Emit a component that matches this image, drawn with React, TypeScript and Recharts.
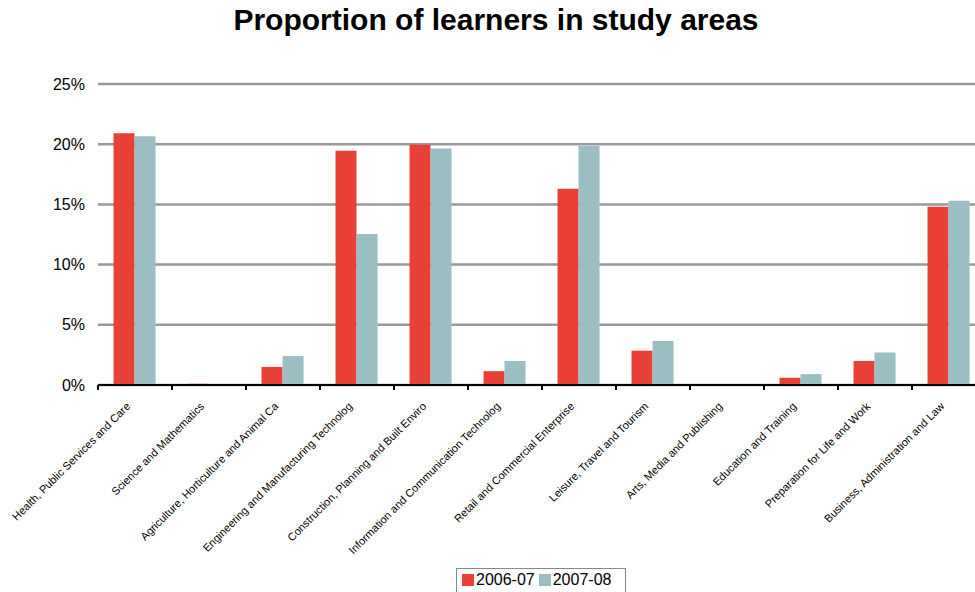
import { BarChart, Bar, XAxis, YAxis, CartesianGrid } from "recharts";

const categories = [
  "Health, Public Services and Care",
  "Science and Mathematics",
  "Agriculture, Horticulture and Animal Ca",
  "Engineering and Manufacturing Technolog",
  "Construction, Planning and Built Enviro",
  "Information and Communication Technolog",
  "Retail and Commercial Enterprise",
  "Leisure, Travel and Tourism",
  "Arts, Media and Publishing",
  "Education and Training",
  "Preparation for Life and Work",
  "Business, Administration and Law",
];

const seriesNames = ["2006-07", "2007-08"];
const values0607 = [20.9, 0.1, 1.5, 19.45, 19.95, 1.15, 16.3, 2.85, 0, 0.6, 2.0, 14.8];
const values0708 = [20.65, 0, 2.4, 12.55, 19.65, 2.0, 19.85, 3.65, 0, 0.9, 2.7, 15.3];
const yTicks = [0, 5, 10, 15, 20, 25];

const colors = ["#e84036", "#9abec1"];
const font = "'Liberation Sans', Arial, sans-serif";

const data = categories.map((name, i) => ({
  name,
  a: values0607[i],
  b: values0708[i],
}));

const CHART_W = 990;
const CHART_H = 600;
const PLOT_TOP = 84;
const PLOT_BOTTOM = 385;
const PLOT_LEFT = 98;
const PLOT_RIGHT = 986;
const band = (PLOT_RIGHT - PLOT_LEFT) / categories.length;

// tick mark at the category boundary, label rotated under it
function CategoryTick(props: any) {
  const { x, y, payload } = props;
  const bx = x - band / 2;
  const ax = PLOT_BOTTOM;
  return (
    <g>
      <line x1={bx} y1={ax} x2={bx} y2={ax + 5} stroke="#000" strokeWidth={2} />
      <text
        x={x - 4}
        y={ax + 22}
        transform={`rotate(-45, ${x - 4}, ${ax + 22})`}
        textAnchor="end"
        fontSize={11}
        fontFamily={font}
        fill="#000"
      >
        {payload.value}
      </text>
    </g>
  );
}

export default function App() {
  return (
    <div style={{ position: "absolute", left: 0, top: 0, width: CHART_W, height: CHART_H, background: "#fff" }}>
      <div
        style={{
          position: "absolute",
          left: 0,
          width: 992,
          top: 3,
          textAlign: "center",
          fontFamily: font,
          fontWeight: "bold",
          fontSize: 30,
          color: "#000",
        }}
      >
        Proportion of learners in study areas
      </div>
      <BarChart
        width={CHART_W}
        height={CHART_H}
        data={data}
        margin={{ top: PLOT_TOP, right: CHART_W - PLOT_RIGHT, left: 0, bottom: 0 }}
        barCategoryGap="21%"
        barGap={0}
      >
        <CartesianGrid vertical={false} stroke="#999" strokeWidth={2.5} />
        <YAxis
          width={PLOT_LEFT}
          domain={[0, 25]}
          ticks={yTicks}
          tickFormatter={(v: number) => `${v}%`}
          axisLine={false}
          tickLine={false}
          tickSize={0}
          tickMargin={13}
          tick={{ fontSize: 16, fill: "#000", fontFamily: font }}
        />
        <XAxis
          dataKey="name"
          height={CHART_H - PLOT_BOTTOM}
          interval={0}
          axisLine={{ stroke: "#000", strokeWidth: 2 }}
          tickLine={false}
          tick={<CategoryTick />}
        />
        <Bar dataKey="a" name={seriesNames[0]} fill={colors[0]} isAnimationActive={false} />
        <Bar dataKey="b" name={seriesNames[1]} fill={colors[1]} isAnimationActive={false} />
      </BarChart>
      <div
        style={{
          position: "absolute",
          left: 456,
          top: 568,
          width: 170,
          height: 30,
          border: "1px solid #888",
          boxSizing: "border-box",
          display: "flex",
          alignItems: "flex-start",
          paddingLeft: 5,
          paddingTop: 2,
          fontFamily: font,
          fontSize: 16,
          color: "#000",
        }}
      >
        {seriesNames.map((s, i) => (
          <span key={s} style={{ display: "flex", alignItems: "center", marginRight: 4 }}>
            <span style={{ width: 12, height: 12, background: colors[i], display: "inline-block", marginRight: 2 }} />
            {s}
          </span>
        ))}
      </div>
    </div>
  );
}
